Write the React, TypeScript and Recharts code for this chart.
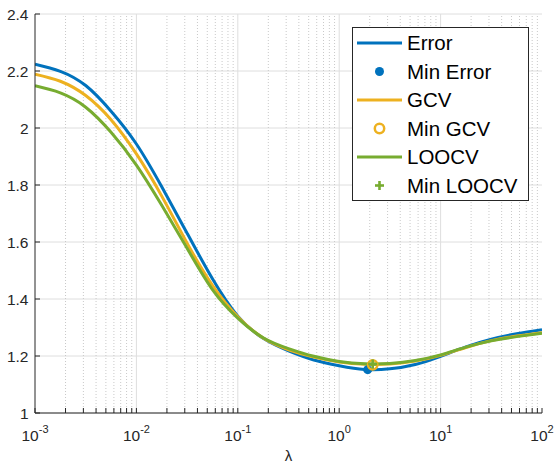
import React from 'react';
import { ComposedChart, Line, XAxis, YAxis, CartesianGrid, ReferenceLine, Legend } from 'recharts';

// log10(lambda) sample positions
const LOG_LAMBDA = [-3, -2.75, -2.5, -2.25, -2, -1.75, -1.5, -1.25, -1, -0.75, -0.5, -0.25, 0, 0.25, 0.5, 0.75, 1, 1.25, 1.5, 1.75, 2];
const ERROR_VALUES = [2.224, 2.199, 2.149, 2.059, 1.944, 1.794, 1.631, 1.471, 1.340, 1.262, 1.218, 1.186, 1.166, 1.153, 1.155, 1.170, 1.199, 1.232, 1.259, 1.278, 1.292];
const GCV_VALUES = [2.189, 2.164, 2.114, 2.029, 1.909, 1.761, 1.596, 1.448, 1.338, 1.263, 1.222, 1.196, 1.179, 1.171, 1.172, 1.182, 1.202, 1.230, 1.254, 1.270, 1.282];
const LOOCV_VALUES = [2.148, 2.123, 2.073, 1.985, 1.870, 1.729, 1.578, 1.433, 1.333, 1.264, 1.226, 1.199, 1.181, 1.173, 1.174, 1.184, 1.204, 1.231, 1.253, 1.268, 1.280];

const MIN_ERROR = [{ lam: 1.91, value: 1.152 }];
const MIN_GCV = [{ lam: 2.14, value: 1.169 }];
const MIN_LOOCV = [{ lam: 2.14, value: 1.172 }];

const MAJOR_TICKS = [0.001, 0.01, 0.1, 1, 10, 100];
const MINOR_MULTIPLIERS = [2, 3, 4, 5, 6, 7, 8, 9];
const Y_TICKS = [1, 1.2, 1.4, 1.6, 1.8, 2, 2.2, 2.4];

const LEGEND_ITEMS = [
  { label: 'Error', kind: 'line', color: '#0072BD' },
  { label: 'Min Error', kind: 'dot', color: '#0072BD' },
  { label: 'GCV', kind: 'line', color: '#EDB120' },
  { label: 'Min GCV', kind: 'ring', color: '#EDB120' },
  { label: 'LOOCV', kind: 'line', color: '#77AC30' },
  { label: 'Min LOOCV', kind: 'plus', color: '#77AC30' },
];

const data = LOG_LAMBDA.map((e, i) => ({
  lam: Math.pow(10, e),
  error: ERROR_VALUES[i],
  gcv: GCV_VALUES[i],
  loocv: LOOCV_VALUES[i],
}));

const MINOR_TICKS: number[] = [];
MAJOR_TICKS.slice(0, -1).forEach((d) => MINOR_MULTIPLIERS.forEach((m) => MINOR_TICKS.push(m * d)));
const ALL_X_TICKS = [...MAJOR_TICKS, ...MINOR_TICKS].sort((a, b) => a - b);

const AXIS_COLOR = '#262626';
const FONT = '"Liberation Sans", Arial, Helvetica, sans-serif';
const TICK_LEN = 5;

const isMajor = (v: number) => MAJOR_TICKS.some((t) => Math.abs(t - v) / t < 1e-9);

const BottomTick = (props: any) => {
  const { x, y, payload } = props;
  const v = payload.value;
  const exp = Math.round(Math.log10(v));
  return (
    <g>
      <line x1={x} y1={y} x2={x} y2={y - TICK_LEN} stroke={AXIS_COLOR} strokeWidth={1} />
      {isMajor(v) && (
        <text x={x} y={y + 27.5} textAnchor="middle" fill={AXIS_COLOR} fontSize={15.5} fontFamily={FONT}>
          10<tspan dy={-7.5} fontSize={11}>{exp}</tspan>
        </text>
      )}
    </g>
  );
};

const TopTick = (props: any) => {
  const { x, y } = props;
  return <line x1={x} y1={y} x2={x} y2={y + TICK_LEN} stroke={AXIS_COLOR} strokeWidth={1} />;
};

const LeftTick = (props: any) => {
  const { x, y, payload } = props;
  return (
    <g>
      <line x1={x} y1={y} x2={x + TICK_LEN} y2={y} stroke={AXIS_COLOR} strokeWidth={1} />
      <text x={x - 6.5} y={y} dy="0.36em" textAnchor="end" fill={AXIS_COLOR} fontSize={15.5} fontFamily={FONT}>
        {String(payload.value)}
      </text>
    </g>
  );
};

const RightTick = (props: any) => {
  const { x, y } = props;
  return <line x1={x} y1={y} x2={x - TICK_LEN} y2={y} stroke={AXIS_COLOR} strokeWidth={1} />;
};

const Marker = ({ kind, color, cx, cy }: any) => {
  if (kind === 'dot') return <circle cx={cx} cy={cy} r={4.5} fill={color} stroke="none" />;
  if (kind === 'ring') return <circle cx={cx} cy={cy} r={4.7} fill="none" stroke={color} strokeWidth={2.5} />;
  if (kind === 'plus')
    return (
      <g>
        <line x1={cx - 4.5} y1={cy} x2={cx + 4.5} y2={cy} stroke={color} strokeWidth={2.6} />
        <line x1={cx} y1={cy - 4.5} x2={cx} y2={cy + 4.5} stroke={color} strokeWidth={2.6} />
      </g>
    );
  return null;
};

const makeDot = (kind: string, color: string) => (props: any) => (
  <g key={`${kind}-${props.index}`}>
    <Marker kind={kind} color={color} cx={props.cx} cy={props.cy} />
  </g>
);

const LegendBox = () => {
  const w = 177;
  const h = 174;
  return (
    <svg width={w} height={h} style={{ display: 'block' }}>
      <rect x={0.5} y={0.5} width={w - 1} height={h - 1} fill="#ffffff" stroke={AXIS_COLOR} strokeWidth={1} />
      {LEGEND_ITEMS.map((it, i) => {
        const cy = 16 + i * 28.5;
        return (
          <g key={it.label}>
            {it.kind === 'line' ? (
              <line x1={5} y1={cy} x2={50} y2={cy} stroke={it.color} strokeWidth={3} />
            ) : (
              <Marker kind={it.kind} color={it.color} cx={27.5} cy={cy} />
            )}
            <text x={55} y={cy} dy="0.36em" fill="#000000" fontSize={20.5} fontFamily={FONT}>
              {it.label}
            </text>
          </g>
        );
      })}
    </svg>
  );
};

export default function App() {
  return (
    <div style={{ position: 'absolute', left: 0, top: 0, width: 555, height: 463, background: '#ffffff' }}>
      <ComposedChart width={555} height={463} data={data} margin={{ top: 14, right: 13, bottom: 0, left: 0 }}>
        <CartesianGrid vertical={false} horizontal={true} stroke="#dedede" strokeWidth={1} />
        {MINOR_TICKS.map((v) => (
          <ReferenceLine key={`mn-${v}`} x={v} stroke="#c9c9c9" strokeWidth={1} strokeDasharray="1 2" />
        ))}
        {MAJOR_TICKS.slice(1, -1).map((v) => (
          <ReferenceLine key={`mj-${v}`} x={v} stroke="#dedede" strokeWidth={1} />
        ))}
        <XAxis
          dataKey="lam"
          type="number"
          scale="log"
          domain={[0.001, 100]}
          allowDataOverflow
          ticks={ALL_X_TICKS}
          interval={0}
          tick={BottomTick}
          tickLine={false}
          tickSize={0}
          tickMargin={0}
          height={50}
          axisLine={{ stroke: AXIS_COLOR, strokeWidth: 1 }}
          label={{ value: 'λ', position: 'insideBottom', offset: 2, fontSize: 15, fill: AXIS_COLOR, fontFamily: FONT }}
        />
        <XAxis
          xAxisId="top"
          orientation="top"
          dataKey="lam"
          type="number"
          scale="log"
          domain={[0.001, 100]}
          allowDataOverflow
          ticks={ALL_X_TICKS}
          interval={0}
          tick={TopTick}
          tickLine={false}
          tickSize={0}
          tickMargin={0}
          height={0}
          axisLine={{ stroke: AXIS_COLOR, strokeWidth: 1 }}
        />
        <YAxis
          type="number"
          domain={[1, 2.4]}
          ticks={Y_TICKS}
          interval={0}
          tick={LeftTick}
          tickLine={false}
          tickSize={0}
          tickMargin={0}
          width={35}
          axisLine={{ stroke: AXIS_COLOR, strokeWidth: 1 }}
        />
        <YAxis
          yAxisId="right"
          orientation="right"
          type="number"
          domain={[1, 2.4]}
          ticks={Y_TICKS}
          interval={0}
          tick={RightTick}
          tickLine={false}
          tickSize={0}
          tickMargin={0}
          width={0}
          axisLine={{ stroke: AXIS_COLOR, strokeWidth: 1 }}
        />
        <Line type="natural" dataKey="error" stroke="#0072BD" strokeWidth={3} dot={false} isAnimationActive={false} />
        <Line data={MIN_ERROR} dataKey="value" stroke="none" dot={makeDot('dot', '#0072BD')} isAnimationActive={false} />
        <Line type="natural" dataKey="gcv" stroke="#EDB120" strokeWidth={3} dot={false} isAnimationActive={false} />
        <Line data={MIN_GCV} dataKey="value" stroke="none" dot={makeDot('ring', '#EDB120')} isAnimationActive={false} />
        <Line type="natural" dataKey="loocv" stroke="#77AC30" strokeWidth={3} dot={false} isAnimationActive={false} />
        <Line data={MIN_LOOCV} dataKey="value" stroke="none" dot={makeDot('plus', '#77AC30')} isAnimationActive={false} />
        <Legend
          layout="horizontal"
          verticalAlign="middle"
          align="center"
          content={() => <LegendBox />}
          wrapperStyle={{ position: 'absolute', left: 352, top: 27, width: 177, height: 174 }}
        />
      </ComposedChart>
    </div>
  );
}
